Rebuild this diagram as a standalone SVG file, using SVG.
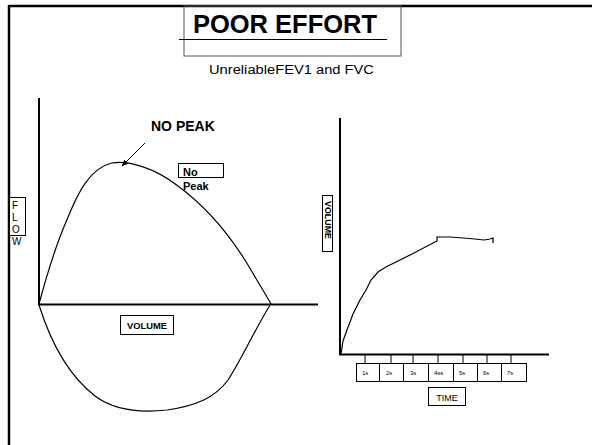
<svg xmlns="http://www.w3.org/2000/svg" width="592" height="445" viewBox="0 0 592 445">
<defs>
<style>
text{font-family:"Liberation Sans",Arial,sans-serif;fill:#000}
.box{fill:#fff;stroke:#000;stroke-width:1}
.ax{stroke:#000;stroke-width:2;fill:none}
.crv{stroke:#000;stroke-width:1.2;fill:none}
.tk{font-size:6px}
</style>
<marker id="ah" viewBox="0 0 10 10" refX="9" refY="5" markerWidth="7" markerHeight="7" orient="auto" markerUnits="userSpaceOnUse">
<path d="M0,1 L10,5 L0,9 Z" fill="#000"/>
</marker>
</defs>
<rect width="592" height="445" fill="#fff"/>
<g id="frame">
<line x1="9" y1="6" x2="592" y2="6" stroke="#000" stroke-width="2.5"/>
<line x1="9" y1="5" x2="9" y2="445" stroke="#000" stroke-width="2.5"/>
</g>
<g id="title">
<rect x="184" y="6" width="217" height="50" fill="none" stroke="#555" stroke-width="1"/>
<text x="285" y="33" font-size="25.5" font-weight="bold" text-anchor="middle">POOR EFFORT</text>
<line x1="179" y1="39.5" x2="387" y2="39.5" stroke="#000" stroke-width="1"/>
<text x="291.5" y="74" font-size="12.5" text-anchor="middle" textLength="165" lengthAdjust="spacingAndGlyphs">UnreliableFEV1 and FVC</text>
</g>
<g id="connectors">
<line class="ax" x1="39" y1="98" x2="39" y2="305"/>
<line class="ax" x1="38" y1="304.5" x2="318" y2="304.5"/>
<line class="ax" x1="340" y1="118" x2="340" y2="355"/>
<line class="ax" x1="339" y1="354.5" x2="549" y2="354.5"/>
<line x1="145" y1="143" x2="122" y2="166" stroke="#000" stroke-width="1" marker-end="url(#ah)"/>
<g stroke="#000" stroke-width="1">
<line x1="365" y1="355" x2="365" y2="363"/>
<line x1="391" y1="355" x2="391" y2="363"/>
<line x1="413" y1="355" x2="413" y2="363"/>
<line x1="438" y1="355" x2="438" y2="363"/>
<line x1="463" y1="355" x2="463" y2="363"/>
<line x1="487" y1="355" x2="487" y2="363"/>
<line x1="511" y1="355" x2="511" y2="363"/>
</g>
</g>
<g id="flow-volume-loop">
<path class="crv" d="M39,304 C46,278 56,245 66,222 C78,192 90,168 112,163 C128,160 155,168 178,186 C205,206 228,232 248,265 C258,282 266,295 271,304"/>
<path class="crv" d="M39,305 C50,340 68,375 95,396 C115,411 140,413 167,410 C195,406 215,398 228,380 C240,362 252,335 270,305"/>
</g>
<g id="volume-time-curve">
<path class="crv" d="M341,354 L343,341 L347,330 L353,314 L360,300 L366,290 L371,280 L378,272 L386,267 L412,254 L437,241 L437,237 L450,237 L463,238 L475,239 L484,240 L490,239 L493,238 L493,243"/>
</g>
<g id="label-no-peak">
<text x="151" y="131" font-size="14" font-weight="bold">NO PEAK</text>
</g>
<g id="box-no-peak">
<rect class="box" x="178.5" y="163.5" width="45" height="14"/>
<text x="183" y="176" font-size="11" font-weight="bold">No</text>
<text x="183" y="190" font-size="11" font-weight="bold">Peak</text>
</g>
<g id="flow-label">
<rect class="box" x="9.5" y="197.5" width="16" height="38" fill="none"/>
<text font-size="10" x="12" y="209">F</text>
<text font-size="10" x="12" y="221">L</text>
<text font-size="10" x="12" y="233">O</text>
<text font-size="10" x="12" y="245">W</text>
</g>
<g id="volume-label-left">
<rect class="box" x="120.5" y="315.5" width="53" height="19"/>
<text x="147" y="328.5" font-size="9.5" text-anchor="middle" font-weight="bold" textLength="40" lengthAdjust="spacingAndGlyphs">VOLUME</text>
</g>
<g id="volume-label-right">
<rect class="box" x="322.5" y="195.5" width="10" height="56"/>
<text transform="translate(325,220) rotate(90)" font-size="9" font-weight="bold" text-anchor="middle" textLength="38" lengthAdjust="spacingAndGlyphs">VOLUME</text>
</g>
<g id="time-ticks">
<rect class="box" x="356.5" y="363.5" width="23" height="18"/>
<rect class="box" x="379.5" y="363.5" width="24" height="18"/>
<rect class="box" x="403.5" y="363.5" width="25" height="18"/>
<rect class="box" x="428.5" y="363.5" width="25" height="18"/>
<rect class="box" x="453.5" y="363.5" width="24" height="18"/>
<rect class="box" x="477.5" y="363.5" width="24" height="18"/>
<rect class="box" x="501.5" y="363.5" width="25" height="18"/>
<text class="tk" x="362" y="374.5">1s</text>
<text class="tk" x="386" y="374.5">2s</text>
<text class="tk" x="410" y="374.5">3s</text>
<text class="tk" x="434" y="374.5">4ss</text>
<text class="tk" x="459" y="374.5">5s</text>
<text class="tk" x="483" y="374.5">6s</text>
<text class="tk" x="507" y="374.5">7s</text>
</g>
<g id="time-label">
<rect class="box" x="428.5" y="387.5" width="37" height="18"/>
<text x="447" y="401" font-size="9" text-anchor="middle">TIME</text>
</g>
</svg>
